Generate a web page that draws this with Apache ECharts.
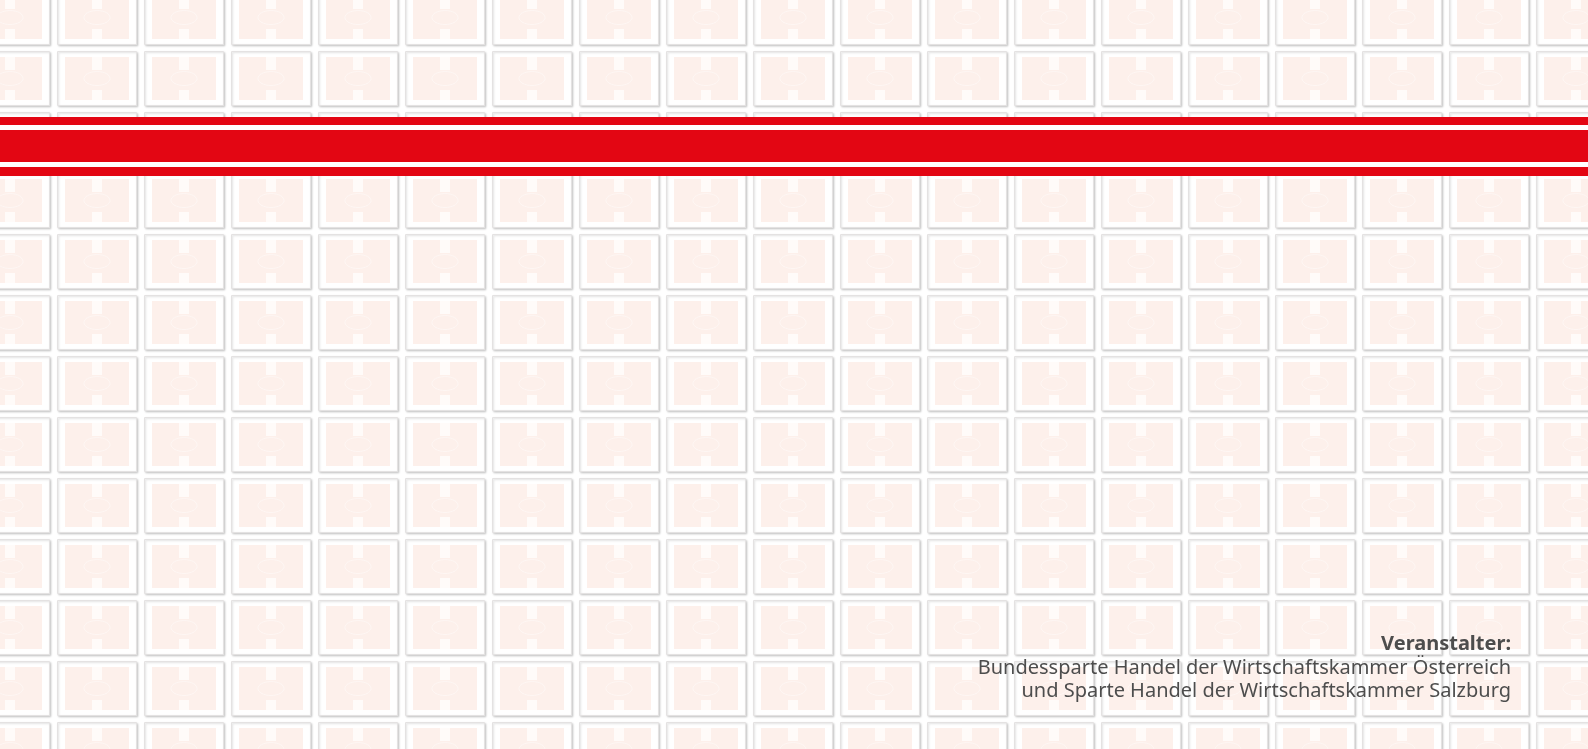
<!DOCTYPE html>
<html>
<head>
<meta charset="utf-8">
<title>Veranstalter</title>
<script src="https://cdn.jsdelivr.net/npm/echarts@6/dist/echarts.min.js"></script>
<style>
  html, body { margin: 0; padding: 0; background: #fff; }
  #chart { width: 1588px; height: 749px; }
</style>
</head>
<body>
<div id="chart"></div>
<script>
// tile grid (column / row indices of the background pattern)
const tileCols = [0, 1, 2, 3, 4, 5, 6, 7, 8, 9, 10, 11, 12, 13, 14, 15, 16, 17, 18];
const tileRows = [0, 1, 2, 3, 4, 5, 6, 7, 8, 9, 10, 11, 12];

// organiser text, bottom right
const organiserTitle = "Veranstalter:";
const organiserLines = [
  "Bundessparte Handel der Wirtschaftskammer Österreich",
  "und Sparte Handel der Wirtschaftskammer Salzburg",
];

const RED = "#e30613";
const PINK = "#fdf0eb";

const cells = [];
tileRows.forEach((r) => tileCols.forEach((c) => cells.push([c, r])));

const chart = echarts.init(document.getElementById("chart"));

function renderTile(params, api) {
  const p = api.coord([api.value(0), api.value(1)]);
  const s = api.size([1, 1]);
  const x = Math.round(p[0]) + 0.5;
  const y = Math.round(p[1]) + 0.5;
  const w = Math.round(s[0]) - 8;
  const h = Math.round(s[1]) - 7;
  const cx = x + w / 2;
  return {
    type: "group",
    children: [
      {
        type: "rect",
        shape: { x, y, width: w, height: h },
        style: {
          fill: "#fff",
          stroke: "#e4e2e2",
          lineWidth: 1,
          shadowColor: "rgba(0,0,0,0.16)",
          shadowBlur: 2,
          shadowOffsetX: 1,
          shadowOffsetY: 1,
        },
      },
      {
        type: "rect",
        shape: { x: x + 7.5, y: y + 5.5, width: w - 15, height: h - 11 },
        style: { fill: PINK },
      },
      {
        type: "rect",
        shape: { x: cx - 5, y: y + 5.5, width: 10, height: 13 },
        style: { fill: "#fffbf9" },
      },
      {
        type: "rect",
        shape: { x: cx - 5, y: y + h - 15.5, width: 10, height: 10 },
        style: { fill: "#fffbf9" },
      },
      {
        type: "ellipse",
        shape: { cx, cy: y + h / 2, rx: 13, ry: 7 },
        style: { fill: "none", stroke: "rgba(255,255,255,0.4)", lineWidth: 1 },
      },
    ],
  };
}

const textStyle = {
  fontFamily: "Noto Sans",
  fontSize: 20,
  fill: "#4d4d4d",
  align: "right",
  verticalAlign: "middle",
};

chart.setOption({
  animation: false,
  backgroundColor: "#fff",
  grid: { left: 0, right: 0, top: 0, bottom: 0 },
  xAxis: { type: "value", show: false, min: 30 / 87, max: 30 / 87 + 1588 / 87 },
  yAxis: { type: "value", show: false, inverse: true, min: 10 / 61, max: 10 / 61 + 749 / 61 },
  series: [
    {
      type: "custom",
      renderItem: renderTile,
      data: cells,
      silent: true,
    },
  ],
  graphic: [
    { type: "rect", z: 100, shape: { x: 0, y: 117, width: 1588, height: 59 }, style: { fill: "#fff" } },
    { type: "rect", z: 101, shape: { x: 0, y: 117, width: 1588, height: 8 }, style: { fill: RED } },
    { type: "rect", z: 101, shape: { x: 0, y: 130, width: 1588, height: 32 }, style: { fill: RED } },
    { type: "rect", z: 101, shape: { x: 0, y: 167, width: 1588, height: 9 }, style: { fill: RED } },
    {
      type: "text", z: 102, x: 1511, y: 644,
      style: Object.assign({}, textStyle, { text: organiserTitle, fontWeight: "bold" }),
    },
    {
      type: "text", z: 102, x: 1511, y: 668,
      style: Object.assign({}, textStyle, { text: organiserLines[0] }),
    },
    {
      type: "text", z: 102, x: 1511, y: 691,
      style: Object.assign({}, textStyle, { text: organiserLines[1] }),
    },
  ],
});
</script>
</body>
</html>
